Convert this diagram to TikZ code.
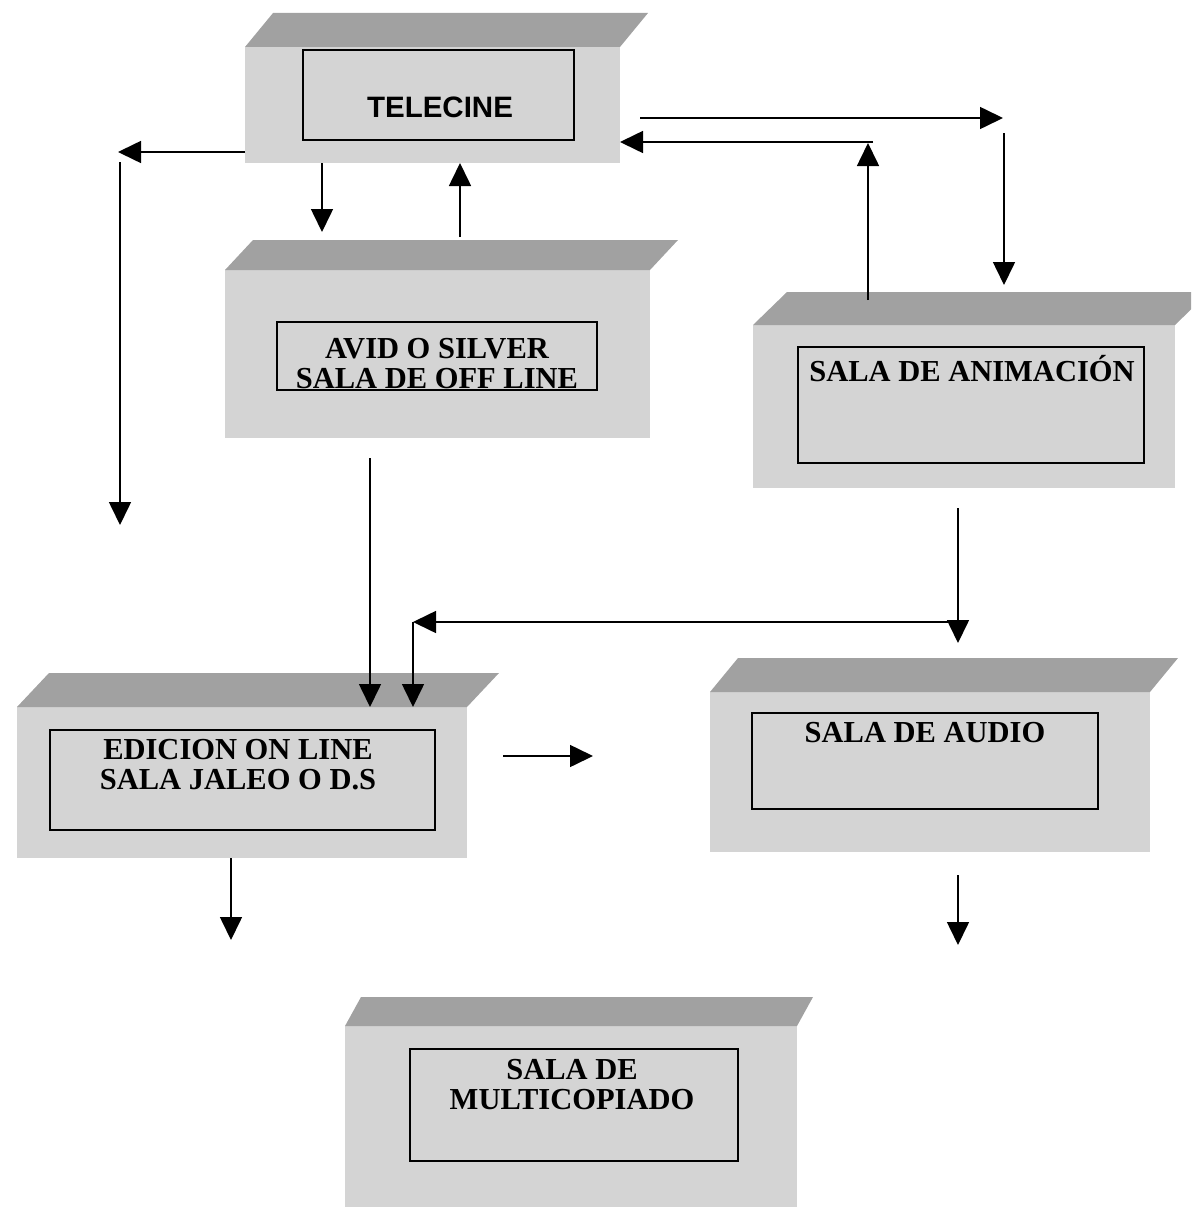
\documentclass[tikz,border=0pt]{standalone}
\usepackage{fontspec}
\setmainfont{Liberation Serif}
\newfontfamily\arialfont{Liberation Sans}
\usetikzlibrary{arrows.meta}
\definecolor{bodygray}{gray}{0.83}
\definecolor{bandgray}{gray}{0.63}
\tikzset{
  body/.style={fill=bodygray, draw=none, inner sep=0pt, outer sep=0pt},
  band/.style={fill=bandgray},
  inbox/.style={draw=black, line width=2.2pt, inner sep=0pt, outer sep=0pt},
  lbl/.style={font=\fontsize{30.5}{30}\selectfont\bfseries, align=center, inner sep=0pt},
  conn/.style={line width=1.6pt, -{Triangle[length=23pt,width=22pt]}},
}
\newcommand\topband[3]{% node, dx, height
  \fill[band] (#1.north west) -- ([shift={(#2,-#3)}]#1.north west)
     -- ([shift={(#2,-#3)}]#1.north east) -- (#1.north east) -- cycle;}
\begin{document}
\begin{tikzpicture}[x=1pt,y=-1pt]
\useasboundingbox (0,0) rectangle (1191,1207);
\clip (0,0) rectangle (1191,1207);

% TELECINE
\node[body, minimum width=375pt, minimum height=116pt] (b1) at (432.5,105) {};
\topband{b1}{28}{34}
\node[inbox, minimum width=271pt, minimum height=90pt] (i1) at (438.5,95) {};
\node[lbl, font=\arialfont\fontsize{29.5}{30}\selectfont\bfseries] (t1) at (440,107.5) {TELECINE};

% AVID
\node[body, minimum width=425pt, minimum height=168pt] (b2) at (437.5,354) {};
\topband{b2}{28}{30}
\node[inbox, minimum width=320pt, minimum height=68pt] (i2) at (437,356) {};
\node[lbl] (t2) at (437,364) {AVID O SILVER\\SALA DE OFF LINE};

% ANIMACION
\node[body, minimum width=422pt, minimum height=163pt] (b3) at (964,406.5) {};
\topband{b3}{34}{33}
\node[inbox, minimum width=346pt, minimum height=116pt] (i3) at (971,405) {};
\node[lbl] (t3) at (972,369) {SALA DE ANIMACIÓN};

% EDICION
\node[body, minimum width=450pt, minimum height=151pt] (b4) at (242,782.5) {};
\topband{b4}{32}{34}
\node[inbox, minimum width=385pt, minimum height=100pt] (i4) at (242.5,780) {};
\node[lbl] (t4) at (238,765) {EDICION ON LINE\\SALA JALEO O D.S};

% AUDIO
\node[body, minimum width=440pt, minimum height=160pt] (b5) at (930,772) {};
\topband{b5}{28}{34}
\node[inbox, minimum width=346pt, minimum height=96pt] (i5) at (925,761) {};
\node[lbl] (t5) at (925,732.5) {SALA DE AUDIO};

% MULTICOPIADO
\node[body, minimum width=452pt, minimum height=184pt] (b6) at (571,1118) {};
\topband{b6}{16}{29}
\node[inbox, minimum width=328pt, minimum height=112pt] (i6) at (574,1105) {};
\node[lbl] (t6) at (572,1085) {SALA DE\\MULTICOPIADO};

% connector end points
\coordinate (l1) at (118,152);
\coordinate (l2a) at (120,162);
\coordinate (l2b) at (120,525);
\coordinate (d1) at (322,232);
\coordinate (u1) at (460,237);
\coordinate (r1a) at (640,118);
\coordinate (r1b) at (1003,118);
\coordinate (r2a) at (1004,133);
\coordinate (r2b) at (1004,285);
\coordinate (u2a) at (868,300);
\coordinate (u2b) at (868,143);
\coordinate (h1a) at (873,142);
\coordinate (h1b) at (620,142);
\coordinate (d2a) at (370,458);
\coordinate (d3a) at (958,508);
\coordinate (d3b) at (958,643);
\coordinate (h2a) at (950,622);
\coordinate (h2b) at (413,622);
\coordinate (r3a) at (503,756);
\coordinate (r3b) at (593,756);
\coordinate (d4b) at (231,940);
\coordinate (d5a) at (958,875);
\coordinate (d5b) at (958,945);

\draw[conn] (b1.west |- l1) -- (l1);
\draw[conn] (l2a) -- (l2b);
\draw[conn] (b1.south -| d1) -- (d1);
\draw[conn] (u1) -- (b1.south -| u1);
\draw[conn] (r1a) -- (r1b);
\draw[conn] (r2a) -- (r2b);
\draw[conn] (u2a) -- (u2b);
\draw[conn] (h1a) -- (h1b);
\draw[conn] (d2a) -- (d2a |- b4.north);
\draw[conn] (d3a) -- (d3b);
\draw[conn] (h2a) -- (h2b);
\draw[conn] (h2b) -- (h2b |- b4.north);
\draw[conn] (r3a) -- (r3b);
\draw[conn] (b4.south -| d4b) -- (d4b);
\draw[conn] (d5a) -- (d5b);
\end{tikzpicture}
\end{document}
